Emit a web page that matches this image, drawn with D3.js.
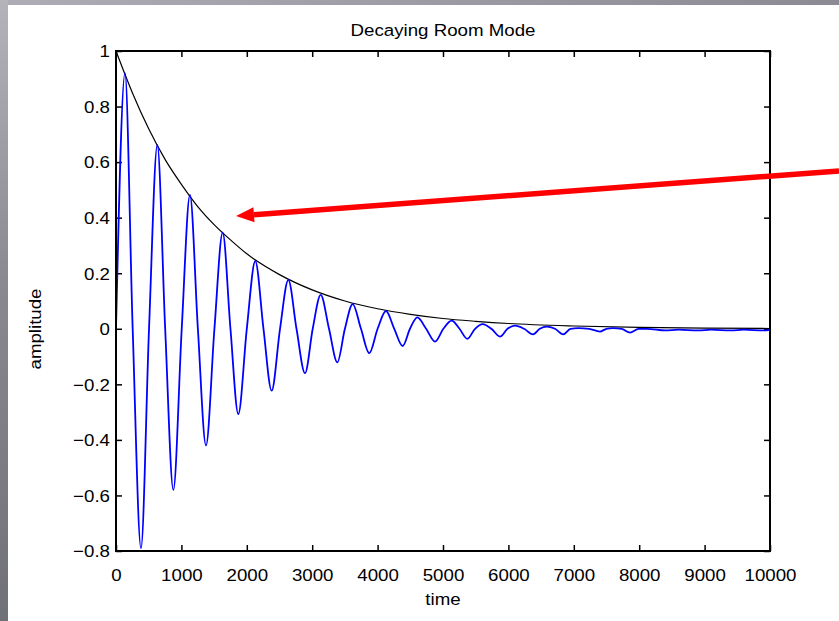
<!DOCTYPE html>
<html>
<head>
<meta charset="utf-8">
<script src="https://cdn.jsdelivr.net/npm/d3@7"></script>
<style>
  html, body { margin: 0; padding: 0; background: #8e8d95; }
  svg { display: block; }
  text { font-family: "Liberation Sans", Arial, sans-serif; fill: #000; }
</style>
</head>
<body>
<svg id="chart" width="839" height="621"></svg>
<script>
// ---- data ----
const chartTitle = "Decaying Room Mode";
const xLabel = "time";
const yLabel = "amplitude";

const xTicks = [0, 1000, 2000, 3000, 4000, 5000, 6000, 7000, 8000, 9000, 10000];
const yTicks = [-0.8, -0.6, -0.4, -0.2, 0, 0.2, 0.4, 0.6, 0.8, 1];

// decay envelope (black)
const envTime = [0, 250, 500, 750, 1000, 1250, 1500, 1750, 2000, 2500, 3000, 3500, 4000, 4500, 5000, 5500, 6000, 7000, 8000, 9000, 10000];
const envAmp  = [1, 0.85, 0.72, 0.61, 0.52, 0.44, 0.375, 0.32, 0.27, 0.195, 0.14, 0.10, 0.072, 0.052, 0.037, 0.027, 0.019, 0.010, 0.005, 0.002, 0.001];

// decaying room mode signal (blue): zero crossings and extremes
const sigTime = [0, 138, 255, 382, 505, 632, 752, 877, 1005, 1131, 1252, 1376, 1505, 1631, 1750, 1870,
  2000, 2130, 2255, 2380, 2508, 2635, 2760, 2890, 3008, 3130, 3257, 3384, 3500, 3619, 3746, 3873,
  4000, 4128, 4255, 4383, 4495, 4607, 4742, 4878, 5005, 5133, 5252, 5372, 5490, 5607, 5740, 5872,
  5986, 6101, 6240, 6376, 6480, 6585, 6712, 6839, 6950, 7069, 7235, 7400, 7500, 7599, 7730, 7860,
  7990, 8119, 8400, 8600, 8900, 9100, 9400, 9600, 9900, 10000];
const sigAmp = [0, 0.92, 0, -0.79, 0, 0.662, 0, -0.58, 0, 0.482, 0, -0.42, 0, 0.346, 0, -0.307,
  0, 0.244, 0, -0.223, 0, 0.176, 0, -0.16, 0, 0.122, 0, -0.121, 0, 0.089, 0, -0.088,
  0, 0.064, 0, -0.062, 0, 0.041, 0, -0.046, 0, 0.029, 0, -0.036, 0, 0.017, 0, -0.028,
  0, 0.011, 0, -0.02, 0, 0.008, 0, -0.02, 0, 0.002, 0, -0.01, 0, 0.002, 0, -0.014,
  0, 0, -0.006, -0.003, -0.006, -0.003, -0.006, -0.003, -0.006, -0.004];

// annotation arrow (tail at right edge, head pointing at envelope)
const arrowFrom = [839, 171];
const arrowTo = [236, 216];

// ---- drawing ----
const svg = d3.select("#chart");
const W = 839, H = 621;
const SX = 1.1; // slight horizontal stretch of the lettering

const defs = svg.append("defs");
const g1 = defs.append("linearGradient").attr("id", "bg").attr("x1", 0).attr("y1", 0).attr("x2", 1).attr("y2", 1);
g1.append("stop").attr("offset", "0%").attr("stop-color", "#aeadb5");
g1.append("stop").attr("offset", "50%").attr("stop-color", "#8c8b93");
g1.append("stop").attr("offset", "100%").attr("stop-color", "#6e6d75");
svg.append("rect").attr("width", W).attr("height", H).attr("fill", "url(#bg)");
const g2 = defs.append("linearGradient").attr("id", "left").attr("x1", 0).attr("y1", 0).attr("x2", 0).attr("y2", 1);
g2.append("stop").attr("offset", "0%").attr("stop-color", "#b4b3ba");
g2.append("stop").attr("offset", "45%").attr("stop-color", "#8a8991");
g2.append("stop").attr("offset", "100%").attr("stop-color", "#707078");
svg.append("rect").attr("x", 0).attr("y", 0).attr("width", 8).attr("height", H).attr("fill", "url(#left)");
svg.append("rect").attr("x", 8).attr("y", 5).attr("width", W - 8).attr("height", H - 5).attr("fill", "#ffffff");

const L = 116, R = 770, T = 51, B = 551;
const x = d3.scaleLinear().domain([0, 10000]).range([L, R]);
const y = d3.scaleLinear().domain([-0.8, 1]).range([B, T]);

const fmtY = d => (Math.abs(d) < 1e-9 ? "0" : d3.format("")(+d.toFixed(1)));

// axes with inward ticks
const axB = svg.append("g").attr("transform", `translate(0,${B})`)
  .call(d3.axisBottom(x).tickValues(xTicks).tickSizeInner(-6).tickSizeOuter(0).tickFormat(d3.format("d")));
const axT = svg.append("g").attr("transform", `translate(0,${T})`)
  .call(d3.axisTop(x).tickValues(xTicks).tickSizeInner(-6).tickSizeOuter(0).tickFormat(""));
const axL = svg.append("g").attr("transform", `translate(${L},0)`)
  .call(d3.axisLeft(y).tickValues(yTicks).tickSizeInner(-6).tickSizeOuter(0).tickFormat(fmtY));
const axR = svg.append("g").attr("transform", `translate(${R},0)`)
  .call(d3.axisRight(y).tickValues(yTicks).tickSizeInner(-6).tickSizeOuter(0).tickFormat(""));

[axB, axT, axL, axR].forEach(a => {
  a.select(".domain").remove();
  a.selectAll(".tick line").attr("stroke", "#000").attr("stroke-width", 1.5);
  a.selectAll("text").style("font-family", "'Liberation Sans', Arial, sans-serif").style("font-size", "17px").attr("fill", "#000");
});
axB.selectAll(".tick text").attr("y", 30).attr("dy", null).attr("transform", `scale(${SX},1)`);
axL.selectAll(".tick text").attr("x", -6 / SX).attr("dy", "0.34em").attr("transform", `scale(${SX},1)`);

// data lines
const clipId = "plotclip";
defs.append("clipPath").attr("id", clipId).append("rect").attr("x", L).attr("y", T - 2).attr("width", R - L).attr("height", B - T + 4);

const sig = sigTime.map((t, i) => [t, sigAmp[i]]);
const env = envTime.map((t, i) => [t, envAmp[i]]);

svg.append("path").datum(env)
  .attr("clip-path", `url(#${clipId})`)
  .attr("fill", "none").attr("stroke", "#000").attr("stroke-width", 1.2)
  .attr("d", d3.line().x(d => x(d[0])).y(d => y(d[1])).curve(d3.curveMonotoneX));

svg.append("path").datum(sig)
  .attr("clip-path", `url(#${clipId})`)
  .attr("fill", "none").attr("stroke", "#0000ff").attr("stroke-width", 1.8)
  .attr("d", d3.line().x(d => x(d[0])).y(d => y(d[1])).curve(d3.curveMonotoneX));

// plot box
svg.append("rect").attr("x", L).attr("y", T).attr("width", R - L).attr("height", B - T)
  .attr("fill", "none").attr("stroke", "#000").attr("stroke-width", 2);

// titles
svg.append("text").attr("transform", `translate(${(L + R) / 2},36) scale(${SX},1)`)
  .attr("text-anchor", "middle").style("font-size", "17px").text(chartTitle);
svg.append("text").attr("transform", `translate(${(L + R) / 2},605) scale(${SX},1)`)
  .attr("text-anchor", "middle").style("font-size", "17px").text(xLabel);
svg.append("text").attr("transform", `translate(41,${(T + B) / 2 + 28}) rotate(-90) scale(${SX},1)`)
  .attr("text-anchor", "middle").style("font-size", "17px").text(yLabel);

// red annotation arrow
const [x0, y0] = arrowFrom, [x1, y1] = arrowTo;
const ang = Math.atan2(y1 - y0, x1 - x0);
const headLen = 18, headHalf = 7.5;
const bx = x1 - headLen * Math.cos(ang), by = y1 - headLen * Math.sin(ang);
svg.append("line").attr("x1", x0).attr("y1", y0).attr("x2", bx).attr("y2", by)
  .attr("stroke", "#ff0000").attr("stroke-width", 5.5);
svg.append("path")
  .attr("d", d3.line()([
    [x1, y1],
    [bx + headHalf * Math.sin(ang), by - headHalf * Math.cos(ang)],
    [bx - headHalf * Math.sin(ang), by + headHalf * Math.cos(ang)]
  ]) + "Z")
  .attr("fill", "#ff0000");
</script>
</body>
</html>
